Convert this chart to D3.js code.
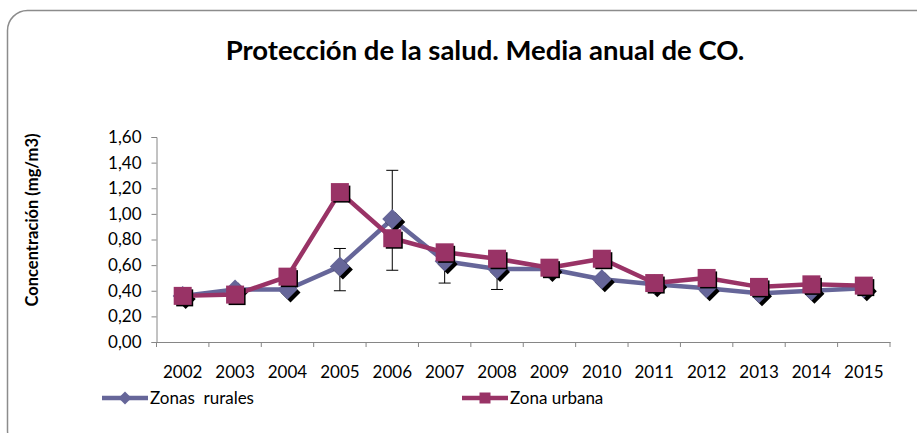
<!DOCTYPE html>
<html>
<head>
<meta charset="utf-8">
<script src="https://cdn.jsdelivr.net/npm/d3@7"></script>
<style>
  body { margin: 0; background: #fff; }
  svg text { font-family: Lato, "Open Sans", sans-serif; fill: #000; }
</style>
</head>
<body>
<div id="chart"></div>
<script>
// Data
const years = ['2002', '2003', '2004', '2005', '2006', '2007', '2008', '2009', '2010', '2011', '2012', '2013', '2014', '2015'];
const rural = [0.36, 0.41, 0.41, 0.59, 0.96, 0.63, 0.57, 0.57, 0.49, 0.45, 0.42, 0.38, 0.40, 0.42];
const urban = [0.36, 0.37, 0.51, 1.17, 0.81, 0.70, 0.65, 0.58, 0.65, 0.46, 0.50, 0.43, 0.45, 0.44];
// error bars on the rural series (low, high); null where none drawn
const ruralLow = [null, null, null, 0.40, 0.56, 0.46, 0.41, null, null, null, null, null, null, null];
const ruralHigh = [null, null, null, 0.73, 1.34, 0.70, 0.65, null, null, null, null, null, null, null];
const yTicks = [0, 0.2, 0.4, 0.6, 0.8, 1.0, 1.2, 1.4, 1.6];

const width = 917, height = 433;
const ruralColor = '#666699', urbanColor = '#993366';
const fmt = v => d3.format('.2f')(v).replace('.', ',');

const svg = d3.select('#chart').append('svg')
  .attr('width', width)
  .attr('height', height);

// Chart border (rounded frame)
svg.append('rect')
  .attr('x', 7.5).attr('y', 10.5)
  .attr('width', 940).attr('height', 440)
  .attr('rx', 20).attr('ry', 20)
  .attr('fill', 'none')
  .attr('stroke', '#8c8c8c')
  .attr('stroke-width', 1.5);

// Title
svg.append('text')
  .attr('x', 485).attr('y', 60)
  .attr('text-anchor', 'middle')
  .style('font-size', '27.5px')
  .style('font-weight', 'bold')
  .text('Protección de la salud. Media anual de CO.');

// Scales
const x = d3.scaleBand().domain(years).range([156.5, 890]);
const y = d3.scaleLinear().domain([0, 1.6]).range([342, 137]);

// Y axis
const yAxis = svg.append('g')
  .attr('transform', 'translate(156.5,0)')
  .call(d3.axisLeft(y).tickValues(yTicks).tickFormat(fmt).tickSize(5).tickPadding(10));
yAxis.select('.domain').attr('stroke', '#868686');
yAxis.selectAll('.tick line').attr('stroke', '#868686');
yAxis.selectAll('.tick text').style('font-size', '17px').style('font-family', 'Lato, sans-serif');

// X axis with ticks between categories
const xAxis = svg.append('g')
  .attr('transform', 'translate(0,342)')
  .call(d3.axisBottom(x).tickSize(0).tickPadding(24));
xAxis.select('.domain').attr('stroke', '#868686');
xAxis.selectAll('.tick text').style('font-size', '17px').style('font-family', 'Lato, sans-serif');
xAxis.selectAll('.sep')
  .data(years.concat(['end']))
  .enter().append('line')
  .attr('class', 'sep')
  .attr('x1', (d, i) => i < years.length ? x(d) : x.range()[1])
  .attr('x2', (d, i) => i < years.length ? x(d) : x.range()[1])
  .attr('y1', 0).attr('y2', 5)
  .attr('stroke', '#868686');

// Y axis title
svg.append('text')
  .attr('transform', 'translate(38,220) rotate(-90)')
  .attr('text-anchor', 'middle')
  .style('font-size', '16.5px')
  .style('font-weight', 'bold')
  .text('Concentración (mg/m3)');

const cx = d => x(d) + x.bandwidth() / 2;

// Error bars
const errData = years.map((yr, i) => ({ yr, lo: ruralLow[i], hi: ruralHigh[i] })).filter(d => d.lo !== null);
const err = svg.append('g').attr('class', 'errors');
err.selectAll('.ev').data(errData).enter().append('line')
  .attr('x1', d => cx(d.yr)).attr('x2', d => cx(d.yr))
  .attr('y1', d => y(d.lo)).attr('y2', d => y(d.hi))
  .attr('stroke', '#000').attr('stroke-width', 1);
['lo', 'hi'].forEach(k => {
  err.selectAll('.cap-' + k).data(errData).enter().append('line')
    .attr('x1', d => cx(d.yr) - 6).attr('x2', d => cx(d.yr) + 6)
    .attr('y1', d => y(d[k])).attr('y2', d => y(d[k]))
    .attr('stroke', '#000').attr('stroke-width', 1);
});

const line = d3.line().x(d => cx(d[0])).y(d => y(d[1]));
const diamond = s => `M0,${-s}L${s},0L0,${s}L${-s},0Z`;

function drawSeries(values, color, shape) {
  const pts = years.map((yr, i) => [yr, values[i]]);
  svg.append('path')
    .datum(pts)
    .attr('d', line)
    .attr('fill', 'none')
    .attr('stroke', color)
    .attr('stroke-width', 4.5)
    .attr('stroke-linejoin', 'round');
  const g = svg.append('g').selectAll('g').data(pts).enter().append('g')
    .attr('transform', d => `translate(${cx(d[0])},${y(d[1])})`);
  if (shape === 'square') {
    g.append('rect').attr('x', -6.5).attr('y', -6.5).attr('width', 17).attr('height', 17).attr('fill', '#000');
    g.append('rect').attr('x', -9).attr('y', -9).attr('width', 18).attr('height', 18).attr('fill', color);
  } else {
    g.append('path').attr('d', diamond(10)).attr('transform', 'translate(3,3)').attr('fill', '#000');
    g.append('path').attr('d', diamond(10)).attr('fill', color);
  }
}

drawSeries(rural, ruralColor, 'diamond');
drawSeries(urban, urbanColor, 'square');

// Legend
const legend = [
  { name: 'Zonas  rurales', color: ruralColor, shape: 'diamond', x0: 102 },
  { name: 'Zona urbana', color: urbanColor, shape: 'square', x0: 462 }
];
const lg = svg.append('g').selectAll('g').data(legend).enter().append('g')
  .attr('transform', d => `translate(${d.x0},398)`);
lg.append('line')
  .attr('x1', 0).attr('x2', 46).attr('y1', 0).attr('y2', 0)
  .attr('stroke', d => d.color).attr('stroke-width', 4.5);
lg.append('path')
  .attr('d', d => d.shape === 'square' ? 'M-5.5,-5.5H5.5V5.5H-5.5Z' : diamond(6.5))
  .attr('transform', 'translate(23,0)')
  .attr('fill', d => d.color);
lg.append('text')
  .attr('x', 48).attr('y', 6)
  .style('font-size', '17px')
  .style('white-space', 'pre')
  .attr('xml:space', 'preserve')
  .text(d => d.name);
</script>
</body>
</html>
